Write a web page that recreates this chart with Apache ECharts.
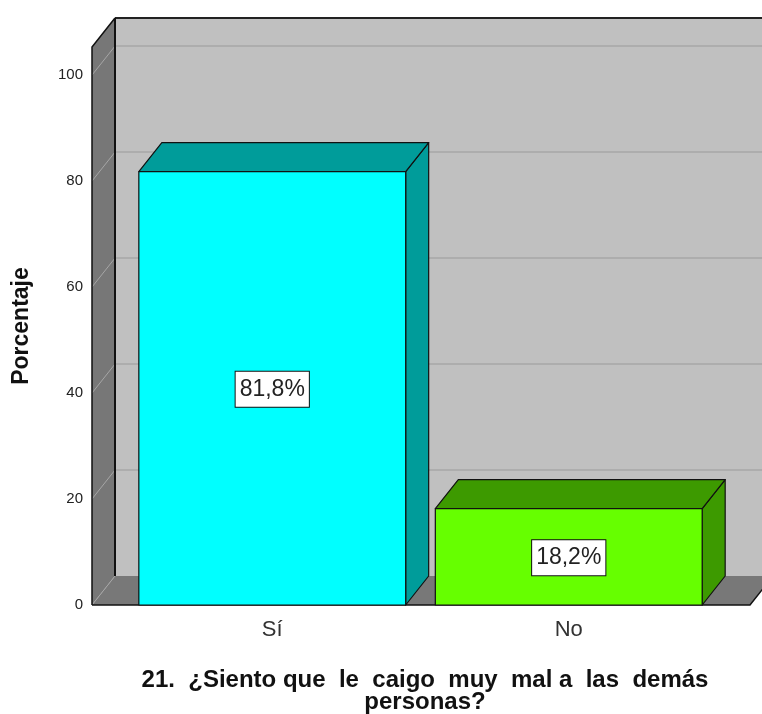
<!DOCTYPE html>
<html>
<head>
<meta charset="utf-8">
<script src="https://cdn.jsdelivr.net/npm/echarts@6/dist/echarts.min.js"></script>
<style>html,body{margin:0;padding:0;background:#fff;}#c{width:762px;height:714px;}</style>
</head>
<body>
<div id="c"></div>
<script>
// ---- data ----
var categories = ['Sí', 'No'];
var values = [81.8, 18.2];
var valueLabels = ['81,8%', '18,2%'];
var frontColors = ['#00FFFF', '#66FF00'];
var sideColors = ['#009C9A', '#3D9A00'];
var yTicks = [0, 20, 40, 60, 80, 100];
var yMax = 105.3;
var axisTitle = 'Porcentaje';
var chartTitle = '21.  ¿Siento que  le  caigo  muy  mal a  las  demás\npersonas?';

// ---- 3D look ----
var DX = 23, DY = -29;
var FONT = '"Liberation Sans", Arial, sans-serif';

var chart = echarts.init(document.getElementById('c'));

function renderWalls(params, api) {
  var cs = params.coordSys;
  var y0 = api.coord([0, 0])[1];
  var yTop = cs.y;
  var xl = cs.x - 32;
  var xr = cs.x + cs.width + 33;
  var children = [];
  children.push({type: 'polygon', shape: {points: [[xl + DX, yTop + DY], [xr + DX + 40, yTop + DY], [xr + DX + 40, y0 + DY], [xl + DX, y0 + DY]]},
    style: {fill: '#C0C0C0'}});
  yTicks.forEach(function (t) {
    var y = api.coord([0, t])[1];
    if (t > 0) {
      children.push({type: 'line', shape: {x1: xl + DX, y1: y + DY, x2: xr + DX + 40, y2: y + DY},
        style: {stroke: '#ADADAD', lineWidth: 2}});
    }
  });
  children.push({type: 'polygon', shape: {points: [[xl, y0], [xr, y0], [xr + DX, y0 + DY], [xl + DX, y0 + DY]]},
    style: {fill: '#787878'}});
  children.push({type: 'polygon', shape: {points: [[xl, y0], [xl, yTop], [xl + DX, yTop + DY], [xl + DX, y0 + DY]]},
    style: {fill: '#777777'}});
  yTicks.forEach(function (t) {
    var y = api.coord([0, t])[1];
    children.push({type: 'line', shape: {x1: xl, y1: y, x2: xl + DX, y2: y + DY},
      style: {stroke: '#A6A6A6', lineWidth: 1}});
  });
  children.push({type: 'line', shape: {x1: xl + DX, y1: yTop + DY, x2: xr + DX + 40, y2: yTop + DY}, style: {stroke: '#222', lineWidth: 2}});
  children.push({type: 'line', shape: {x1: xl + DX, y1: yTop + DY, x2: xl + DX, y2: y0 + DY}, style: {stroke: '#111', lineWidth: 2}});
  children.push({type: 'polyline', shape: {points: [[xl, y0], [xl, yTop], [xl + DX, yTop + DY]]}, style: {stroke: '#111', lineWidth: 1.5, fill: null}});
  children.push({type: 'polyline', shape: {points: [[xl, y0], [xr, y0], [xr + DX, y0 + DY]]}, style: {stroke: '#111', lineWidth: 1.5, fill: null}});
  return {type: 'group', children: children};
}

function renderBar(params, api) {
  var idx = api.value(0);
  var v = api.value(1);
  var base = api.coord([idx, 0]);
  var top = api.coord([idx, v]);
  var w = api.size([1, 0])[0] * 0.9;
  var x1 = base[0] - w / 2, x2 = base[0] + w / 2;
  var yb = base[1], yt = top[1];
  var dark = sideColors[idx], front = frontColors[idx];
  var st = {stroke: '#111', lineWidth: 1.2, lineJoin: 'round'};
  return {type: 'group', children: [
    {type: 'polygon', shape: {points: [[x2, yb], [x2, yt], [x2 + DX, yt + DY], [x2 + DX, yb + DY]]}, style: Object.assign({fill: dark}, st)},
    {type: 'polygon', shape: {points: [[x1, yt], [x2, yt], [x2 + DX, yt + DY], [x1 + DX, yt + DY]]}, style: Object.assign({fill: dark}, st)},
    {type: 'rect', shape: {x: x1, y: yt, width: w, height: yb - yt}, style: Object.assign({fill: front}, st)},
    {type: 'text', x: base[0], y: (yb + yt) / 2 + 1, style: {text: valueLabels[idx], font: '23px ' + FONT, fill: '#222',
      align: 'center', verticalAlign: 'middle', backgroundColor: '#fff', borderColor: '#111', borderWidth: 1, padding: [7, 4, 5, 4]}}
  ]};
}

chart.setOption({
  animation: false,
  backgroundColor: '#fff',
  grid: {left: 124, right: 45, top: 47, bottom: 109, containLabel: false, outerBoundsMode: 'none'},
  title: {text: chartTitle, left: 420, top: 664, textAlign: 'center',
    textStyle: {fontFamily: FONT, fontSize: 24, fontWeight: 'bold', color: '#111', lineHeight: 22}},
  xAxis: {type: 'category', data: categories, axisLine: {show: false}, axisTick: {show: false},
    axisLabel: {fontFamily: FONT, fontSize: 22, color: '#333', margin: 14}},
  yAxis: {type: 'value', min: 0, max: yMax, interval: 20, offset: 32,
    axisLine: {show: false}, axisTick: {show: false}, splitLine: {show: false},
    axisLabel: {fontFamily: FONT, fontSize: 15, color: '#222', margin: 9, showMaxLabel: false,
      formatter: function (v) { return yTicks.indexOf(v) >= 0 ? String(v) : ''; }},
    name: axisTitle, nameLocation: 'middle', nameRotate: 90, nameGap: 59,
    nameTextStyle: {fontFamily: FONT, fontSize: 23, fontWeight: 'bold', color: '#111'}},
  series: [
    {type: 'custom', renderItem: renderWalls, data: [[0, 0]], silent: true, z: 1},
    {type: 'custom', renderItem: renderBar, data: values.map(function (v, i) { return [i, v]; }), z: 2}
  ]
});
</script>
</body>
</html>
